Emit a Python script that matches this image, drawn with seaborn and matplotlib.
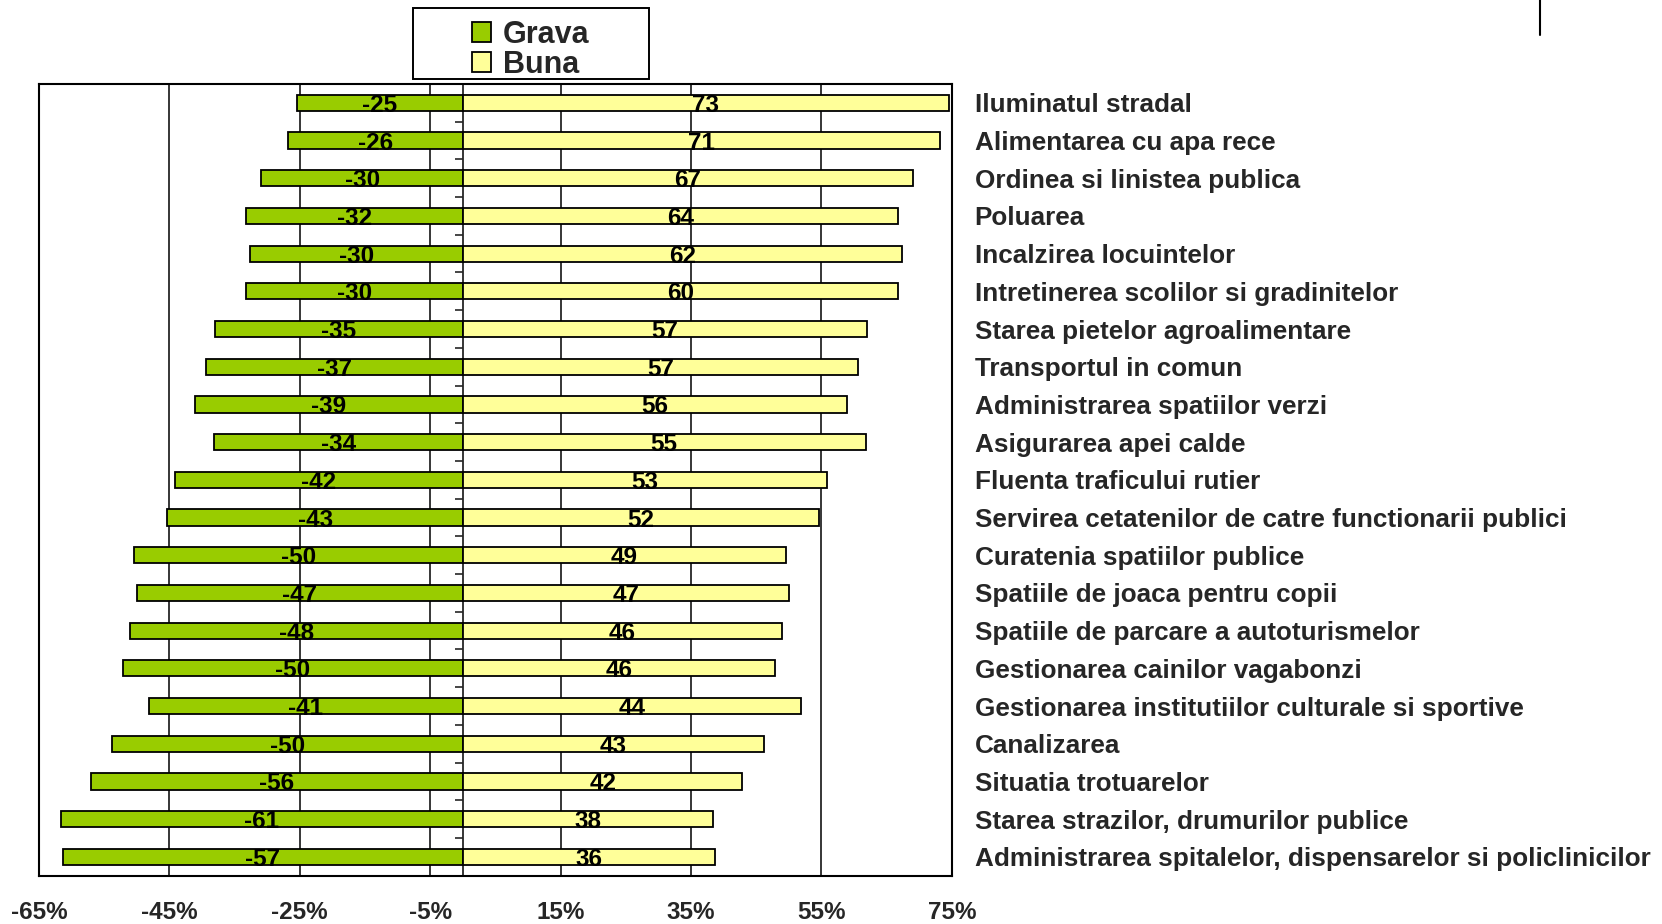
#!/usr/bin/env python3
"""
Diverging bar chart: Grava vs Buna evaluation of public services
"""

import numpy as np
import pandas as pd
import matplotlib.pyplot as plt
import seaborn as sns
from matplotlib.patches import Rectangle, Patch
from matplotlib.lines import Line2D
from matplotlib.ticker import FixedLocator

# Categories, top to bottom
categories = [
    "Iluminatul stradal",
    "Alimentarea cu apa rece",
    "Ordinea si linistea publica",
    "Poluarea",
    "Incalzirea locuintelor",
    "Intretinerea scolilor si gradinitelor",
    "Starea pietelor agroalimentare",
    "Transportul in comun",
    "Administrarea spatiilor verzi",
    "Asigurarea apei calde",
    "Fluenta traficului rutier",
    "Servirea cetatenilor de catre functionarii publici",
    "Curatenia spatiilor publice",
    "Spatiile de joaca pentru copii",
    "Spatiile de parcare a autoturismelor",
    "Gestionarea cainilor vagabonzi",
    "Gestionarea institutiilor culturale si sportive",
    "Canalizarea",
    "Situatia trotuarelor",
    "Starea strazilor, drumurilor publice",
    "Administrarea spitalelor, dispensarelor si policlinicilor",
]

# Printed labels on the bars
grava_labels = [-25, -26, -30, -32, -30, -30, -35, -37, -39, -34, -42,
                -43, -50, -47, -48, -50, -41, -50, -56, -61, -57]
buna_labels = [73, 71, 67, 64, 62, 60, 57, 57, 56, 55, 53,
               52, 49, 47, 46, 46, 44, 43, 42, 38, 36]

# Bar lengths as drawn (percent)
grava_bar = [-25.5, -26.8, -30.9, -33.3, -32.6, -33.3, -38.0, -39.4, -41.1, -38.2, -44.2,
             -45.3, -50.5, -50.0, -51.1, -52.1, -48.2, -53.8, -57.1, -61.6, -61.3]
buna_bar = [74.5, 73.2, 69.1, 66.7, 67.4, 66.7, 62.0, 60.6, 58.9, 61.8, 55.8,
            54.7, 49.5, 50.0, 48.9, 47.9, 51.8, 46.2, 42.9, 38.4, 38.7]

x_ticks = [-65, -45, -25, -5, 15, 35, 55, 75]

GREEN = "#99CC00"
YELLOW = "#FFFF99"

sns.set_style("white")
plt.rcParams['font.family'] = ['Liberation Sans', 'DejaVu Sans']
plt.rcParams['font.weight'] = 'bold'

df = pd.DataFrame({
    'categorie': categories,
    'grava': grava_bar,
    'buna': buna_bar,
})

fig = plt.figure(figsize=(16.62, 9.24), dpi=100)
ax = fig.add_axes([0.02347, 0.0523, 0.5492, 0.8568])

sns.barplot(data=df, x='grava', y='categorie', color=GREEN, width=0.43,
            edgecolor='black', linewidth=1.3, saturation=1, ax=ax, orient='h')
sns.barplot(data=df, x='buna', y='categorie', color=YELLOW, width=0.43,
            edgecolor='black', linewidth=1.3, saturation=1, ax=ax, orient='h')

# Value labels centred in the bars
for cont, labs in zip(ax.containers[:2], [grava_labels, buna_labels]):
    texts = ax.bar_label(cont, labels=[str(v) for v in labs], label_type='center',
                         fontsize=17.5, fontweight='bold', color='black')
    for t in texts:
        t.set_va('center_baseline')

ax.set_xlim(x_ticks[0], x_ticks[-1])
ax.set_ylim(len(categories) - 0.5, -0.5)
ax.set_xticks(x_ticks)
ax.set_xticklabels([f'{t}%' for t in x_ticks], fontsize=17.5, fontweight='bold')
ax.tick_params(axis='x', direction='out', length=6.5, width=1.2, color='black', pad=12)
ax.xaxis.grid(True, color='black', linewidth=1.1)
ax.yaxis.grid(False)
ax.set_axisbelow(True)
ax.set_xlabel('')
ax.set_ylabel('')

# Category names on the right side
ax.yaxis.tick_right()
ax.set_yticks(range(len(categories)))
ax.set_yticklabels(categories, fontsize=18.8, fontweight='bold')
ax.tick_params(axis='y', length=0, pad=16.5)

for side in ['top', 'bottom', 'left', 'right']:
    ax.spines[side].set_visible(True)
    ax.spines[side].set_color('black')
    ax.spines[side].set_linewidth(1.5)

# Category axis at x = 0
x0, x1 = ax.get_xlim()
sec = ax.secondary_yaxis((0 - x0) / (x1 - x0))
sec.spines['left'].set_linewidth(1.3)
sec.yaxis.set_major_locator(FixedLocator(np.arange(-0.5, len(categories), 1)))
sec.yaxis.set_minor_locator(FixedLocator(np.arange(0, len(categories), 1) - 0.05))
sec.tick_params(axis='y', which='major', direction='out', length=5.5, width=1.2, labelleft=False)
sec.tick_params(axis='y', which='minor', direction='in', length=5, width=1.2)
sec.set_yticklabels([])

# Legend with separate box
handles = [Patch(facecolor=GREEN, edgecolor='black', linewidth=1.3, label='Grava'),
           Patch(facecolor=YELLOW, edgecolor='black', linewidth=1.3, label='Buna')]
fig.legend(handles=handles, loc='center', bbox_to_anchor=(0.3195, 0.946),
           frameon=False, prop={'weight': 'bold', 'size': 22},
           handlelength=0.6, handleheight=0.62, handletextpad=0.4, labelspacing=0.0,
           borderpad=0.0)
fig.add_artist(Rectangle((0.2485, 0.9145), 0.142, 0.0765, transform=fig.transFigure,
                         facecolor='none', edgecolor='black', linewidth=1.4))

# Stray line in the top right corner
fig.add_artist(Line2D([0.9267, 0.9267], [1.0, 0.962], transform=fig.transFigure,
                      color='black', linewidth=1.5))

plt.savefig('out.png', dpi=100)
plt.close()
